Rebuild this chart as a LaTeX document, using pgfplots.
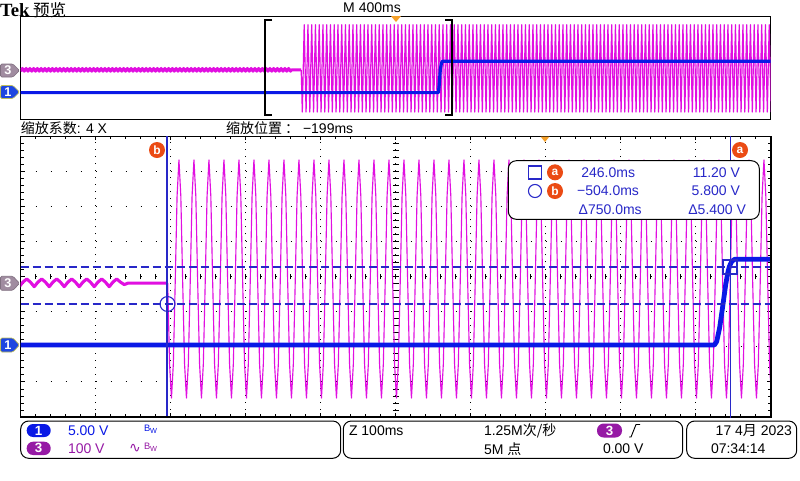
\documentclass[border=0pt]{standalone}
\usepackage{pgfplots}
\pgfplotsset{compat=1.18}
\usepackage{fontspec}
\setmainfont{Liberation Sans}
\newfontfamily\cjk{Noto Sans CJK SC}
\newfontfamily\tek{Liberation Serif}
\newfontfamily\dejavu{DejaVu Sans}

\definecolor{chone}{RGB}{10,25,230}
\definecolor{chthree}{RGB}{225,15,225}
\definecolor{tagthree}{RGB}{160,140,160}
\definecolor{tagone}{RGB}{30,70,225}
\definecolor{curs}{RGB}{40,40,200}
\definecolor{mark}{RGB}{235,75,20}
\definecolor{trig}{RGB}{245,160,40}
\definecolor{pillthree}{RGB}{150,25,165}

\newcommand\ui{\fontsize{10.5}{12}\selectfont}
\pgfplotsset{osc/.style={anchor=north west, scale only axis, width=562.5pt}}

\begin{document}
\begin{tikzpicture}
\fill[white] (0,0) rectangle (600pt,-360pt);
\path[use as bounding box] (0,0) rectangle (600pt,-360pt);

% ---------- header
\begin{scope}[x=0.75pt,y=-0.75pt,every node/.style={inner sep=0pt,outer sep=0pt}]
\node[anchor=west] at (0,10) {\tek\bfseries\fontsize{14}{14}\selectfont Tek};
\node[anchor=west] at (33,10.5) {\cjk\fontsize{12.5}{13}\selectfont 预览};
\node at (372,8) {\ui M 400ms};
\end{scope}

% ---------- preview, channel 3
\begin{axis}[osc, at={(15.525pt,-12pt)}, height=77.25pt,
  xmin=-2000, xmax=2000, ymin=-381, ymax=419,
  ticks=none, axis line style={black, line width=0.75pt}]
\addplot[chthree, line width=2.2pt, line join=round] coordinates {
(-2001,-10)(-1991,12)(-1981,-10)(-1971,12)(-1961,-10)(-1951,12)(-1941,-10)(-1931,12)(-1921,-10)(-1911,12)
(-1901,-10)(-1891,12)(-1881,-10)(-1871,12)(-1861,-10)(-1851,12)(-1841,-10)(-1831,12)(-1821,-10)(-1811,12)
(-1801,-10)(-1791,12)(-1781,-10)(-1771,12)(-1761,-10)(-1751,12)(-1741,-10)(-1731,12)(-1721,-10)(-1711,12)
(-1701,-10)(-1691,12)(-1681,-10)(-1671,12)(-1661,-10)(-1651,12)(-1641,-10)(-1631,12)(-1621,-10)(-1611,12)
(-1601,-10)(-1591,12)(-1581,-10)(-1571,12)(-1561,-10)(-1551,12)(-1541,-10)(-1531,12)(-1521,-10)(-1511,12)
(-1501,-10)(-1491,12)(-1481,-10)(-1471,12)(-1461,-10)(-1451,12)(-1441,-10)(-1431,12)(-1421,-10)(-1411,12)
(-1401,-10)(-1391,12)(-1381,-10)(-1371,12)(-1361,-10)(-1351,12)(-1341,-10)(-1331,12)(-1321,-10)(-1311,12)
(-1301,-10)(-1291,12)(-1281,-10)(-1271,12)(-1261,-10)(-1251,12)(-1241,-10)(-1231,12)(-1221,-10)(-1211,12)
(-1201,-10)(-1191,12)(-1181,-10)(-1171,12)(-1161,-10)(-1151,12)(-1141,-10)(-1131,12)(-1121,-10)(-1111,12)
(-1101,-10)(-1091,12)(-1081,-10)(-1071,12)(-1061,-10)(-1051,12)(-1041,-10)(-1031,12)(-1021,-10)(-1011,12)
(-1001,-10)(-991,12)(-981,-10)(-971,12)(-961,-10)(-951,12)(-941,-10)(-931,12)(-921,-10)(-911,12)
(-901,-10)(-891,12)(-881,-10)(-871,12)(-861,-10)(-851,12)(-841,-10)(-831,12)(-821,-10)(-811,12)
(-801,-10)(-791,12)(-781,-10)(-771,12)(-761,-10)(-751,12)(-741,-10)(-731,12)(-721,-10)(-711,12)
(-701,-10)(-691,12)(-681,-10)(-671,12)(-661,-10)(-651,12)(-641,-10)(-631,12)(-621,-10)(-611,12)
(-601,-10)(-591,12)(-581,-10)(-571,12)(-561,-10)(-556,0)(-504,0)};
\addplot[chthree, line width=0.9pt, line join=round] coordinates {
(-504,0)
(-498,-327)(-488,351)(-478,-327)(-468,351)(-458,-327)(-448,351)(-438,-327)(-428,351)(-418,-327)(-408,351)
(-398,-327)(-388,351)(-378,-327)(-368,351)(-358,-327)(-348,351)(-338,-327)(-328,351)(-318,-327)(-308,351)
(-298,-327)(-288,351)(-278,-327)(-268,351)(-258,-327)(-248,351)(-238,-327)(-228,351)(-218,-327)(-208,351)
(-198,-327)(-188,351)(-178,-327)(-168,351)(-158,-327)(-148,351)(-138,-327)(-128,351)(-118,-327)(-108,351)
(-98,-327)(-88,351)(-78,-327)(-68,351)(-58,-327)(-48,351)(-38,-327)(-28,351)(-18,-327)(-8,351)
(2,-327)(12,351)(22,-327)(32,351)(42,-327)(52,351)(62,-327)(72,351)(82,-327)(92,351)
(102,-327)(112,351)(122,-327)(132,351)(142,-327)(152,351)(162,-327)(172,351)(182,-327)(192,351)
(202,-327)(212,351)(222,-327)(232,351)(242,-327)(252,351)(262,-327)(272,351)(282,-327)(292,351)
(302,-327)(312,351)(322,-327)(332,351)(342,-327)(352,351)(362,-327)(372,351)(382,-327)(392,351)
(402,-327)(412,351)(422,-327)(432,351)(442,-327)(452,351)(462,-327)(472,351)(482,-327)(492,351)
(502,-327)(512,351)(522,-327)(532,351)(542,-327)(552,351)(562,-327)(572,351)(582,-327)(592,351)
(602,-327)(612,351)(622,-327)(632,351)(642,-327)(652,351)(662,-327)(672,351)(682,-327)(692,351)
(702,-327)(712,351)(722,-327)(732,351)(742,-327)(752,351)(762,-327)(772,351)(782,-327)(792,351)
(802,-327)(812,351)(822,-327)(832,351)(842,-327)(852,351)(862,-327)(872,351)(882,-327)(892,351)
(902,-327)(912,351)(922,-327)(932,351)(942,-327)(952,351)(962,-327)(972,351)(982,-327)(992,351)
(1002,-327)(1012,351)(1022,-327)(1032,351)(1042,-327)(1052,351)(1062,-327)(1072,351)(1082,-327)(1092,351)
(1102,-327)(1112,351)(1122,-327)(1132,351)(1142,-327)(1152,351)(1162,-327)(1172,351)(1182,-327)(1192,351)
(1202,-327)(1212,351)(1222,-327)(1232,351)(1242,-327)(1252,351)(1262,-327)(1272,351)(1282,-327)(1292,351)
(1302,-327)(1312,351)(1322,-327)(1332,351)(1342,-327)(1352,351)(1362,-327)(1372,351)(1382,-327)(1392,351)
(1402,-327)(1412,351)(1422,-327)(1432,351)(1442,-327)(1452,351)(1462,-327)(1472,351)(1482,-327)(1492,351)
(1502,-327)(1512,351)(1522,-327)(1532,351)(1542,-327)(1552,351)(1562,-327)(1572,351)(1582,-327)(1592,351)
(1602,-327)(1612,351)(1622,-327)(1632,351)(1642,-327)(1652,351)(1662,-327)(1672,351)(1682,-327)(1692,351)
(1702,-327)(1712,351)(1722,-327)(1732,351)(1742,-327)(1752,351)(1762,-327)(1772,351)(1782,-327)(1792,351)
(1802,-327)(1812,351)(1822,-327)(1832,351)(1842,-327)(1852,351)(1862,-327)(1872,351)(1882,-327)(1892,351)
(1902,-327)(1912,351)(1922,-327)(1932,351)(1942,-327)(1952,351)(1962,-327)(1972,351)(1982,-327)(1992,351)
(2002,-327)};
\end{axis}

% ---------- preview, channel 1
\begin{axis}[osc, at={(15.525pt,-12pt)}, height=77.25pt,
  xmin=-2000, xmax=2000, ymin=-10.25, ymax=29.75, hide axis]
\addplot[chone, line width=2.4pt, line join=round] coordinates {
(-2000,0)(228,0)(232,3)(238,9)(244,11.5)(250,12.2)(2000,12.2)};
\end{axis}

\begin{scope}[x=0.75pt,y=-0.75pt,every node/.style={inner sep=0pt,outer sep=0pt}]
% zoom window brackets and trigger marker
\draw[black, line width=2pt] (272,20) -- (265,20) -- (265,115) -- (272,115);
\draw[black, line width=2pt] (445,20) -- (452,20) -- (452,115) -- (445,115);
\fill[trig] (391,16) -- (401,16) -- (396,22) -- cycle;
% preview channel tags
\draw[fill=tagthree, draw=tagthree!80!black, line width=0.5pt, rounded corners=1pt]
  (0.5,64) -- (13,64) -- (19.5,70.5) -- (13,77) -- (0.5,77) -- cycle;
\node[white] at (8,70.5) {\fontsize{9.5}{10}\selectfont\bfseries 3};
\draw[fill=tagone, draw={rgb,255:red,190;green,190;blue,90}, line width=0.5pt, rounded corners=1pt]
  (0.5,85.5) -- (13,85.5) -- (19.5,92) -- (13,98.5) -- (0.5,98.5) -- cycle;
\node[white] at (8,92) {\fontsize{9.5}{10}\selectfont\bfseries 1};
% zoom labels
\node[anchor=west] at (21,128) {\ui{\cjk 缩放系数}: 4 X};
\node[anchor=west] at (226,128) {\ui{\cjk 缩放位置 ：} −199ms};
\end{scope}

% ---------- zoom graticule
\begin{axis}[osc, at={(15.525pt,-102pt)}, height=210.75pt,
  xmin=0, xmax=50, ymin=0, ymax=40,
  xtick={0,5,...,50}, ytick={0,5,...,40},
  minor xtick={0,...,50}, minor ytick={0,...,40},
  xticklabels={}, yticklabels={},
  tick align=inside, major tick length=3pt, minor tick length=2.2pt,
  tick style={black, line width=0.6pt},
  grid=major,
  x grid style={black, line width=0.7pt, dash pattern=on 0.7pt off 4.57pt},
  y grid style={black, line width=0.7pt, dash pattern=on 0.7pt off 10.55pt},
  axis line style={black, line width=0.75pt}]
\pgfplotsinvokeforeach{1,...,49}{\draw[black, line width=0.6pt] (axis cs:#1,20) ++(0,-2.2pt) -- ++(0,4.4pt);}
\pgfplotsinvokeforeach{1,...,39}{\draw[black, line width=0.6pt] (axis cs:25,#1) ++(-2.2pt,0) -- ++(4.4pt,0);}
\end{axis}

% ---------- zoom, channel 3
\begin{axis}[osc, at={(15.525pt,-102pt)}, height=210.75pt,
  xmin=-699, xmax=301, ymin=-381, ymax=419, hide axis]
\addplot[chthree, line width=2.3pt, line join=round] coordinates {
(-701,-10)(-696,3)(-691,12)(-686,3)(-681,-10)(-676,3)(-671,12)(-666,3)(-661,-10)(-656,3)
(-651,12)(-646,3)(-641,-10)(-636,3)(-631,12)(-626,3)(-621,-10)(-616,3)(-611,12)(-606,3)
(-601,-10)(-596,3)(-591,12)(-586,3)(-581,-10)(-576,3)(-571,12)(-566,3)(-561,-4)(-556,0)(-504,0)};
\addplot[chthree, line width=0.85pt, line join=round] coordinates {
(-504,0)
(-503,0)(-500.5,-231)(-498,-327)(-495.5,-231)(-493,0)(-490.5,248)(-488,351)(-485.5,248)
(-483,0)(-480.5,-231)(-478,-327)(-475.5,-231)(-473,0)(-470.5,248)(-468,351)(-465.5,248)
(-463,0)(-460.5,-231)(-458,-327)(-455.5,-231)(-453,0)(-450.5,248)(-448,351)(-445.5,248)
(-443,0)(-440.5,-231)(-438,-327)(-435.5,-231)(-433,0)(-430.5,248)(-428,351)(-425.5,248)
(-423,0)(-420.5,-231)(-418,-327)(-415.5,-231)(-413,0)(-410.5,248)(-408,351)(-405.5,248)
(-403,0)(-400.5,-231)(-398,-327)(-395.5,-231)(-393,0)(-390.5,248)(-388,351)(-385.5,248)
(-383,0)(-380.5,-231)(-378,-327)(-375.5,-231)(-373,0)(-370.5,248)(-368,351)(-365.5,248)
(-363,0)(-360.5,-231)(-358,-327)(-355.5,-231)(-353,0)(-350.5,248)(-348,351)(-345.5,248)
(-343,0)(-340.5,-231)(-338,-327)(-335.5,-231)(-333,0)(-330.5,248)(-328,351)(-325.5,248)
(-323,0)(-320.5,-231)(-318,-327)(-315.5,-231)(-313,0)(-310.5,248)(-308,351)(-305.5,248)
(-303,0)(-300.5,-231)(-298,-327)(-295.5,-231)(-293,0)(-290.5,248)(-288,351)(-285.5,248)
(-283,0)(-280.5,-231)(-278,-327)(-275.5,-231)(-273,0)(-270.5,248)(-268,351)(-265.5,248)
(-263,0)(-260.5,-231)(-258,-327)(-255.5,-231)(-253,0)(-250.5,248)(-248,351)(-245.5,248)
(-243,0)(-240.5,-231)(-238,-327)(-235.5,-231)(-233,0)(-230.5,248)(-228,351)(-225.5,248)
(-223,0)(-220.5,-231)(-218,-327)(-215.5,-231)(-213,0)(-210.5,248)(-208,351)(-205.5,248)
(-203,0)(-200.5,-231)(-198,-327)(-195.5,-231)(-193,0)(-190.5,248)(-188,351)(-185.5,248)
(-183,0)(-180.5,-231)(-178,-327)(-175.5,-231)(-173,0)(-170.5,248)(-168,351)(-165.5,248)
(-163,0)(-160.5,-231)(-158,-327)(-155.5,-231)(-153,0)(-150.5,248)(-148,351)(-145.5,248)
(-143,0)(-140.5,-231)(-138,-327)(-135.5,-231)(-133,0)(-130.5,248)(-128,351)(-125.5,248)
(-123,0)(-120.5,-231)(-118,-327)(-115.5,-231)(-113,0)(-110.5,248)(-108,351)(-105.5,248)
(-103,0)(-100.5,-231)(-98,-327)(-95.5,-231)(-93,0)(-90.5,248)(-88,351)(-85.5,248)
(-83,0)(-80.5,-231)(-78,-327)(-75.5,-231)(-73,0)(-70.5,248)(-68,351)(-65.5,248)
(-63,0)(-60.5,-231)(-58,-327)(-55.5,-231)(-53,0)(-50.5,248)(-48,351)(-45.5,248)
(-43,0)(-40.5,-231)(-38,-327)(-35.5,-231)(-33,0)(-30.5,248)(-28,351)(-25.5,248)
(-23,0)(-20.5,-231)(-18,-327)(-15.5,-231)(-13,0)(-10.5,248)(-8,351)(-5.5,248)
(-3,0)(-0.5,-231)(2,-327)(4.5,-231)(7,0)(9.5,248)(12,351)(14.5,248)
(17,0)(19.5,-231)(22,-327)(24.5,-231)(27,0)(29.5,248)(32,351)(34.5,248)
(37,0)(39.5,-231)(42,-327)(44.5,-231)(47,0)(49.5,248)(52,351)(54.5,248)
(57,0)(59.5,-231)(62,-327)(64.5,-231)(67,0)(69.5,248)(72,351)(74.5,248)
(77,0)(79.5,-231)(82,-327)(84.5,-231)(87,0)(89.5,248)(92,351)(94.5,248)
(97,0)(99.5,-231)(102,-327)(104.5,-231)(107,0)(109.5,248)(112,351)(114.5,248)
(117,0)(119.5,-231)(122,-327)(124.5,-231)(127,0)(129.5,248)(132,351)(134.5,248)
(137,0)(139.5,-231)(142,-327)(144.5,-231)(147,0)(149.5,248)(152,351)(154.5,248)
(157,0)(159.5,-231)(162,-327)(164.5,-231)(167,0)(169.5,248)(172,351)(174.5,248)
(177,0)(179.5,-231)(182,-327)(184.5,-231)(187,0)(189.5,248)(192,351)(194.5,248)
(197,0)(199.5,-231)(202,-327)(204.5,-231)(207,0)(209.5,248)(212,351)(214.5,248)
(217,0)(219.5,-231)(222,-327)(224.5,-231)(227,0)(229.5,248)(232,351)(234.5,248)
(237,0)(239.5,-231)(242,-327)(244.5,-231)(247,0)(249.5,248)(252,351)(254.5,248)
(257,0)(259.5,-231)(262,-327)(264.5,-231)(267,0)(269.5,248)(272,351)(274.5,248)
(277,0)(279.5,-231)(282,-327)(284.5,-231)(287,0)(289.5,248)(292,351)(294.5,248)
(297,0)(299.5,-231)(302,-327)(304.5,-231)};
\end{axis}

% ---------- zoom, channel 1
\begin{axis}[osc, at={(15.525pt,-102pt)}, height=210.75pt,
  xmin=-699, xmax=301, ymin=-10.25, ymax=29.75, hide axis]
\addplot[chone, line width=3.6pt, line join=round] coordinates {
(-700,0)(226,0)
(229,0.5)(233,2.5)(237,5.5)(241,8.6)(244,10.4)(246,11.2)(249,11.9)(253,12.2)(302,12.2)};
\end{axis}

\begin{scope}[x=0.75pt,y=-0.75pt,every node/.style={inner sep=0pt,outer sep=0pt}]
% heavy right and bottom frame
\draw[black, line width=1.6pt] (771,136) -- (771,416.7) -- (20.7,416.7);
% trigger marker
\fill[trig] (540.5,136.5) -- (549.5,136.5) -- (545,142) -- cycle;
% cursors
\draw[curs, line width=0.8pt] (167,136) -- (167,416);
\draw[curs, line width=0.8pt] (730.5,136) -- (730.5,418);
\draw[curs, line width=0.8pt, dash pattern=on 6pt off 3pt] (20.7,267) -- (770,267);
\draw[curs, line width=0.8pt, dash pattern=on 6pt off 3pt] (20.7,304) -- (770,304);
\draw[curs, line width=0.8pt] (167.5,304) circle[radius=5.6pt];
\draw[curs, line width=0.8pt] (723,260) rectangle (737,274);
\node[circle, fill=mark, minimum size=12pt] at (157,150) {};
\node[white] at (157,150) {\fontsize{9}{9}\selectfont\bfseries b};
\node[circle, fill=mark, minimum size=12pt] at (740,150) {};
\node[white] at (740,150) {\fontsize{9}{9}\selectfont\bfseries a};
% readout box
\draw[black, fill=white, line width=0.75pt, rounded corners=6pt] (508.3,160.7) rectangle (759.3,219.3);
\draw[curs, line width=0.8pt] (528.5,166) rectangle (541.5,179);
\draw[curs, line width=0.8pt] (535,191) circle[radius=4.9pt];
\node[circle, fill=mark, minimum size=12pt] at (555,172.3) {};
\node[white] at (555,172.3) {\fontsize{9}{9}\selectfont\bfseries a};
\node[circle, fill=mark, minimum size=12pt] at (555,191) {};
\node[white] at (555,191) {\fontsize{9}{9}\selectfont\bfseries b};
\node[anchor=east, text=curs] at (635,172.3) {\ui 246.0ms};
\node[anchor=east, text=curs] at (639,191) {\ui −504.0ms};
\node[anchor=east, text=curs] at (641.7,210) {\ui Δ750.0ms};
\node[anchor=east, text=curs] at (740,172.3) {\ui 11.20 V};
\node[anchor=east, text=curs] at (740,191) {\ui 5.800 V};
\node[anchor=east, text=curs] at (746,210) {\ui Δ5.400 V};
% zoom channel tags
\draw[fill=tagthree, draw=tagthree!80!black, line width=0.5pt, rounded corners=1pt]
  (0.5,276.3) -- (13,276.3) -- (19.5,283.3) -- (13,290.3) -- (0.5,290.3) -- cycle;
\node[white] at (8,283.3) {\fontsize{9.5}{10}\selectfont\bfseries 3};
\draw[fill=tagone, draw={rgb,255:red,190;green,190;blue,90}, line width=0.5pt, rounded corners=1pt]
  (0.5,338) -- (13,338) -- (19.5,345) -- (13,352) -- (0.5,352) -- cycle;
\node[white] at (8,345) {\fontsize{9.5}{10}\selectfont\bfseries 1};
% status bar
\draw[black, line width=0.75pt, rounded corners=6pt] (20.7,421) rectangle (340.7,458.3);
\draw[black, line width=0.75pt, rounded corners=6pt] (343.3,421) rectangle (682.7,458.3);
\draw[black, line width=0.75pt, rounded corners=6pt] (686.7,421) rectangle (796.7,458.3);
\fill[chone, rounded corners=4.8pt] (26.7,424) rectangle (50.7,437);
\node[white] at (38.7,430.5) {\fontsize{10}{10}\selectfont\bfseries 1};
\fill[pillthree, rounded corners=4.8pt] (26.7,441.7) rectangle (50.7,455);
\node[white] at (38.7,448.3) {\fontsize{10}{10}\selectfont\bfseries 3};
\node[anchor=west, text=chone] at (68,430.5) {\ui 5.00 V};
\node[anchor=west, text=pillthree] at (68,448.3) {\ui 100 V};
\node[anchor=west, text=chone] at (144,429.5) {\fontsize{7}{7}\selectfont B\raisebox{-1.8pt}{\fontsize{5.5}{5.5}\selectfont W}};
\node[anchor=west, text=pillthree] at (129,448) {\dejavu\fontsize{10.5}{10.5}\selectfont ∿};
\node[anchor=west, text=pillthree] at (144,447.5) {\fontsize{7}{7}\selectfont B\raisebox{-1.8pt}{\fontsize{5.5}{5.5}\selectfont W}};
\node[anchor=west] at (349,430.5) {\ui Z 100ms};
\node[anchor=west] at (484,430.5) {\ui 1.25M{\cjk 次/秒}};
\node[anchor=west] at (484,449) {\ui 5M {\cjk 点}};
\fill[pillthree, rounded corners=5pt] (597,423.5) rectangle (622,437.5);
\node[white] at (609.5,430.5) {\fontsize{10}{10}\selectfont\bfseries 3};
\draw[black, line width=0.7pt] (629,437) -- (631,437) -- (636,424.5) -- (640,424.5);
\node[anchor=west] at (603,449) {\ui 0.00 V};
\node[anchor=east] at (792,430.5) {\ui 17 4{\cjk 月} 2023};
\node[anchor=west] at (711,449) {\ui 07:34:14};
\end{scope}
\end{tikzpicture}
\end{document}
